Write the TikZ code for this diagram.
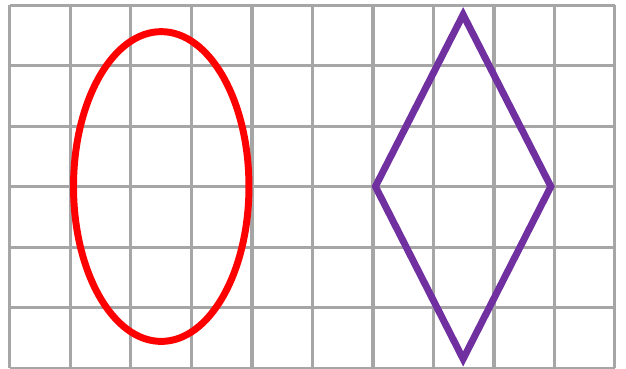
\documentclass[tikz,border=0pt]{standalone}
\definecolor{gridgray}{HTML}{A6A6A6}
\definecolor{shapepurple}{HTML}{7030A0}
\begin{document}
\begin{tikzpicture}[x=1cm,y=1cm,
  gridline/.style={draw=gridgray,line width=0.05cm},
  shapeline/.style={line width=0.115cm}]
\useasboundingbox (-0.165,0) rectangle (10.182,6.083);
\fill[white] (-0.165,0) rectangle (10.182,6.083);
\draw[gridline] (0,0) grid[step=1] (10,6);
\coordinate (ec) at (2.5,3);
\draw[shapeline,draw=red] (ec) ellipse [x radius=1.45, y radius=2.56];
\coordinate (dt) at (7.49,5.84);
\coordinate (dr) at (8.94,3);
\coordinate (db) at (7.49,0.15);
\coordinate (dl) at (6.04,3);
\draw[shapeline,draw=shapepurple] (dt) -- (dr) -- (db) -- (dl) -- cycle;
\end{tikzpicture}
\end{document}
